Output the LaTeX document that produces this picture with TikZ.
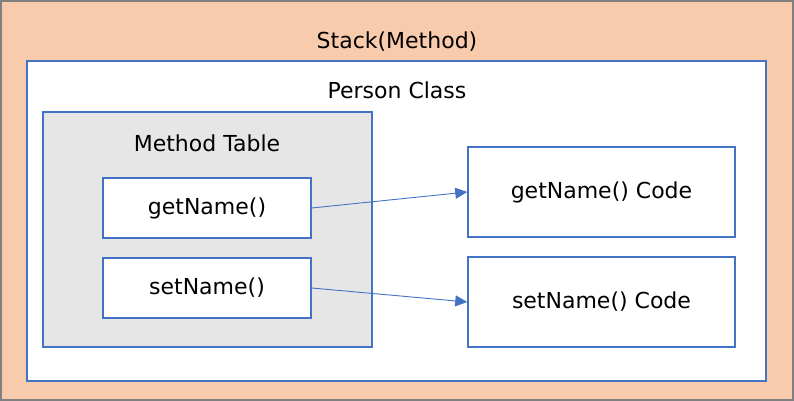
\documentclass[tikz,border=0pt]{standalone}
\usepackage{fontspec}
\setmainfont{DejaVu Sans}
\usetikzlibrary{arrows.meta}
\definecolor{peach}{HTML}{F8CBAD}
\definecolor{boxblue}{HTML}{4472C4}
\definecolor{tablegray}{HTML}{E7E6E6}
\begin{document}
\begin{tikzpicture}[x=1pt,y=-1pt,font=\fontsize{22}{26}\selectfont,
  box/.style={draw=boxblue,line width=1.5pt,fill=white,inner sep=0pt},
  link/.style={draw=boxblue,line width=0.9pt,-{Triangle[length=12pt,width=11pt]}}]
\useasboundingbox (0,0) rectangle (794,401);
\draw[draw=gray,line width=2pt,fill=peach] (1,1) rectangle (793,400);
\node (stack) at (397,42) {Stack(Method)};
\node [box,minimum width=739pt,minimum height=320pt] (person) at (396.5,221) {};
\node (personlbl) at (397,90) {Person Class};
\node [box,fill=tablegray,minimum width=329pt,minimum height=235pt] (table) at (207.5,229.5) {};
\node (tablelbl) at (207,143) {Method Table};
\node [box,minimum width=208pt,minimum height=60pt] (get) at (207,208) {getName()};
\node [box,minimum width=208pt,minimum height=60pt] (set) at (207,288) {setName()};
\node [box,minimum width=267pt,minimum height=90pt] (getcode) at (601.5,192) {getName() Code};
\node [box,minimum width=267pt,minimum height=90pt] (setcode) at (601.5,302) {setName() Code};
\draw [link] (get.east) -- (getcode.west);
\draw [link] (set.east) -- (setcode.west);
\end{tikzpicture}
\end{document}
